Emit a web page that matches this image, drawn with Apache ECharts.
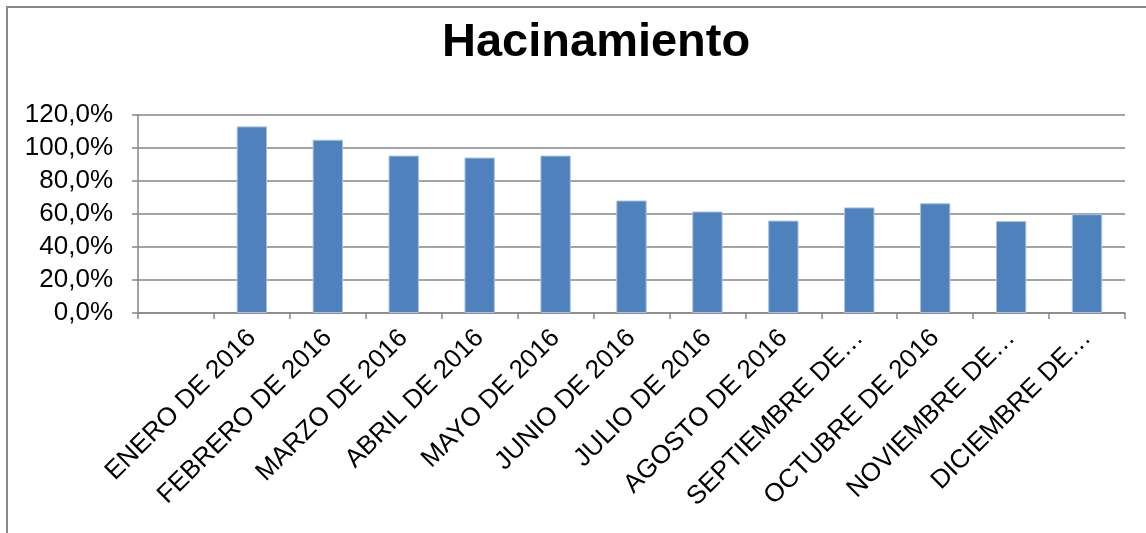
<!DOCTYPE html>
<html>
<head>
<meta charset="utf-8">
<script src="https://cdn.jsdelivr.net/npm/echarts@6/dist/echarts.min.js"></script>
<style>
  html, body { margin: 0; padding: 0; background: #fff; }
  #chart { width: 1146px; height: 533px; }
</style>
</head>
<body>
<div id="chart"></div>
<script>
  // categories (first slot is empty in the original)
  var categories = ['', 'ENERO DE 2016', 'FEBRERO DE 2016', 'MARZO DE 2016', 'ABRIL DE 2016',
    'MAYO DE 2016', 'JUNIO DE 2016', 'JULIO DE 2016', 'AGOSTO DE 2016', 'SEPTIEMBRE DE…',
    'OCTUBRE DE 2016', 'NOVIEMBRE DE…', 'DICIEMBRE DE…'];

  // hacinamiento (fraction)
  var hacinamiento = [null, 1.131, 1.05, 0.954, 0.942, 0.954, 0.682, 0.615, 0.56, 0.64, 0.665, 0.557, 0.599];

  var yTicks = [0, 0.2, 0.4, 0.6, 0.8, 1.0, 1.2];

  var font = 'Liberation Sans, Arial, sans-serif';
  var gray = '#868686';

  var myChart = echarts.init(document.getElementById('chart'));

  var option = {
    backgroundColor: '#fff',
    animation: false,
    title: {
      text: 'Hacinamiento',
      left: 437,
      top: 15,
      textStyle: { fontFamily: font, fontSize: 47, fontWeight: 'bold', color: '#000' }
    },
    graphic: [{
      type: 'polyline',
      shape: { points: [[7, 533], [7, 7], [1146, 7]] },
      style: { stroke: '#888', lineWidth: 2, fill: null }
    }],
    grid: { left: 138, right: 21, top: 115, bottom: 220 },
    xAxis: {
      type: 'category',
      data: categories,
      axisLine: { lineStyle: { color: gray, width: 1.5 } },
      axisTick: { show: true, length: 6, lineStyle: { color: gray, width: 1.5 } },
      axisLabel: {
        rotate: 45,
        interval: 0,
        margin: 21,
        color: '#000',
        fontFamily: font,
        fontSize: 26
      }
    },
    yAxis: {
      type: 'value',
      min: yTicks[0],
      max: yTicks[yTicks.length - 1],
      interval: 0.2,
      axisLine: { show: true, lineStyle: { color: gray, width: 1.5 } },
      axisTick: { show: true, length: 6, lineStyle: { color: gray, width: 1.5 } },
      splitLine: { lineStyle: { color: gray, width: 1.5 } },
      axisLabel: {
        margin: 25,
        color: '#000',
        fontFamily: font,
        fontSize: 26,
        formatter: function (v) {
          return (v * 100).toFixed(1).replace('.', ',') + '%';
        }
      }
    },
    series: [{
      name: 'Hacinamiento',
      type: 'bar',
      data: hacinamiento,
      barWidth: '40%',
      itemStyle: { color: '#4F81BD', borderColor: '#a9c2e2', borderWidth: 1 }
    }]
  };

  myChart.setOption(option);
</script>
</body>
</html>
